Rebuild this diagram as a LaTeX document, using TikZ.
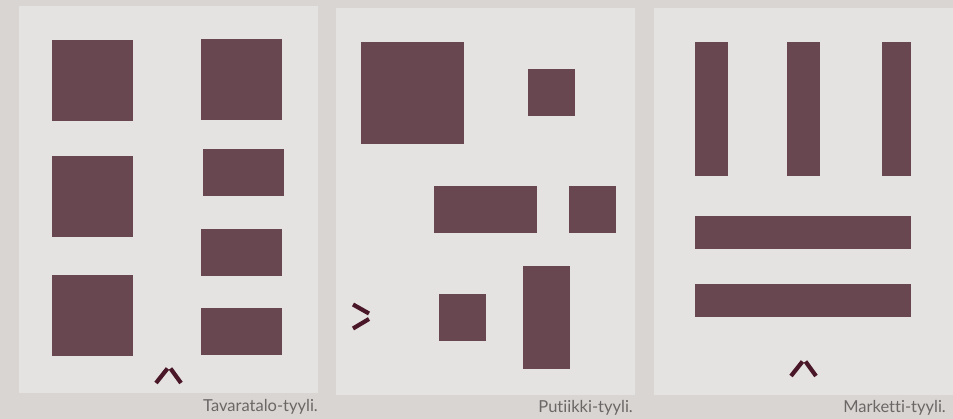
\documentclass[tikz,border=0pt]{standalone}
\usepackage{fontspec}
\setmainfont{Lato}[Ligatures=NoCommon]
\begin{document}
\begin{tikzpicture}[x=1pt,y=-1pt,
  shelf/.style={fill=shelfc,draw=none},
  panel/.style={fill=panelc,draw=none},
  chev/.style={draw=chevc,line width=4.2pt},
  caption/.style={anchor=base east,inner sep=0pt,text=capc,font=\fontsize{16.5}{18}\selectfont}]
\definecolor{bgc}{HTML}{D9D5D2}
\definecolor{panelc}{HTML}{E5E3E1}
\definecolor{shelfc}{HTML}{694751}
\definecolor{chevc}{HTML}{4A1728}
\definecolor{capc}{HTML}{6A6766}
\useasboundingbox (0,0) rectangle (953,419);
\fill[bgc] (0,0) rectangle (953,419);
% panels
\fill[panel] (19,6) rectangle (318,393);
\fill[panel] (336,8) rectangle (635,395);
\fill[panel] (654,8) rectangle (953,395);
% panel 1
\fill[shelf] (52,40) rectangle (133,121);
\fill[shelf] (201,39) rectangle (282,120);
\fill[shelf] (52,156) rectangle (133,237);
\fill[shelf] (203,149) rectangle (284,196);
\fill[shelf] (201,229) rectangle (282,276);
\fill[shelf] (52,275) rectangle (133,356);
\fill[shelf] (201,308) rectangle (282,355);
\draw[chev] (156,383) -- (167.5,368.5);
\draw[chev] (170.5,368.5) -- (181,383);
\node[caption] (c1) at (318,411.5) {Tavaratalo-tyyli.};
% panel 2
\fill[shelf] (361,42) rectangle (464,144);
\fill[shelf] (528,69) rectangle (575,116);
\fill[shelf] (434,186) rectangle (537,233);
\fill[shelf] (569,186) rectangle (616,233);
\fill[shelf] (523,266) rectangle (570,369);
\fill[shelf] (439,294) rectangle (486,341);
\draw[chev] (353,304.5) -- (369,313.5);
\draw[chev] (369,319) -- (353,328.5);
\node[caption] (c2) at (633,413) {Putiikki-tyyli.};
% panel 3
\fill[shelf] (695,42) rectangle (728,176);
\fill[shelf] (787,42) rectangle (820,176);
\fill[shelf] (882,42) rectangle (911,176);
\fill[shelf] (695,216) rectangle (911,249);
\fill[shelf] (695,284) rectangle (911,317);
\draw[chev] (791,376) -- (802.5,361.5);
\draw[chev] (805.5,361.5) -- (816,376);
\node[caption] (c3) at (946,413) {Marketti-tyyli.};
\end{tikzpicture}
\end{document}
